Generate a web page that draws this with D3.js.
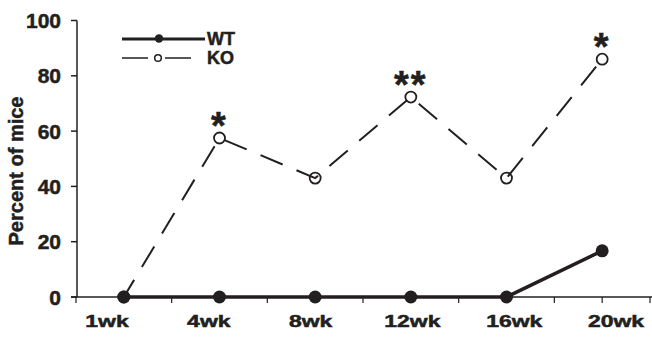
<!DOCTYPE html>
<html>
<head>
<meta charset="utf-8">
<script src="https://cdn.jsdelivr.net/npm/d3@7"></script>
<style>
  body { margin: 0; background: #fff; }
  text { font-family: "Liberation Sans", Arial, sans-serif; font-weight: bold; fill: #231f20; stroke: #231f20; stroke-width: 0.5; }
</style>
</head>
<body>
<svg id="chart" width="652" height="337"></svg>
<script>
'use strict';

var weeks = ['1wk', '4wk', '8wk', '12wk', '16wk', '20wk'];
var wtValues = [0, 0, 0, 0, 0, 16.7];
var koValues = [0, 57.5, 43, 72.3, 43, 86];
var stars = ['', '*', '', '**', '', '*'];
var yTicks = [0, 20, 40, 60, 80, 100];

var ink = '#231f20';
var svg = d3.select('#chart');

var x = d3.scaleBand().domain(weeks).range([76, 650]).padding(0);
var xLabel = d3.scalePoint().domain(weeks).range([107, 616]);
var y = d3.scaleLinear().domain([0, 100]).range([297, 20.5]);

function cx(d, i) { return x(weeks[i]) + x.bandwidth() / 2; }

// axes
var g = svg.append('g');
g.append('line').attr('x1', 71).attr('x2', 652).attr('y1', y(0)).attr('y2', y(0))
  .attr('stroke', ink).attr('stroke-width', 1.5);
g.append('line').attr('x1', 77).attr('x2', 77).attr('y1', y(100)).attr('y2', y(0))
  .attr('stroke', ink).attr('stroke-width', 1.5);

// y ticks
g.selectAll('.ytick').data(yTicks).enter().append('line')
  .attr('x1', 71).attr('x2', 77).attr('y1', function(d) { return y(d); }).attr('y2', function(d) { return y(d); })
  .attr('stroke', ink).attr('stroke-width', 1.5);
g.selectAll('.ylab').data(yTicks).enter().append('text')
  .attr('x', 61).attr('y', function(d) { return y(d) + 7.5; })
  .attr('text-anchor', 'end').attr('font-size', 21)
  .text(function(d) { return d; });

// x ticks: band edges, plus last band center
var xTickPos = weeks.map(function(w) { return x(w); });
xTickPos.push(x(weeks[5]) + x.bandwidth() / 2);
xTickPos.push(x.range()[1]);
g.selectAll('.xtick').data(xTickPos).enter().append('line')
  .attr('x1', function(d) { return d; }).attr('x2', function(d) { return d; })
  .attr('y1', y(0)).attr('y2', y(0) + 6)
  .attr('stroke', ink).attr('stroke-width', 1.2);
g.selectAll('.xlab').data(weeks).enter().append('text')
  .attr('transform', function(d) { return 'translate(' + xLabel(d) + ',327) scale(1.35,1)'; })
  .attr('text-anchor', 'middle').attr('font-size', 17)
  .text(function(d) { return d; });

// y title
svg.append('text')
  .attr('transform', 'translate(23,171) rotate(-90)')
  .attr('text-anchor', 'middle').attr('font-size', 20)
  .text('Percent of mice');

// KO dashed line
var line = d3.line().x(cx).y(function(d) { return y(d); });
svg.append('path').datum(koValues).attr('d', line)
  .attr('fill', 'none').attr('stroke', ink).attr('stroke-width', 2)
  .attr('stroke-dasharray', '24,15').attr('stroke-dashoffset', 4);
svg.selectAll('.ko').data(koValues).enter().append('circle')
  .attr('cx', cx).attr('cy', function(d) { return y(d); }).attr('r', 5.5)
  .attr('fill', 'none').attr('stroke', ink).attr('stroke-width', 1.8);

// WT solid line
svg.append('path').datum(wtValues).attr('d', line)
  .attr('fill', 'none').attr('stroke', ink).attr('stroke-width', 3.5);
svg.selectAll('.wt').data(wtValues).enter().append('circle')
  .attr('cx', cx).attr('cy', function(d) { return y(d); }).attr('r', 6.5)
  .attr('fill', ink);

// significance stars
svg.selectAll('.star').data(stars).enter().append('text')
  .attr('x', function(d, i) { return cx(d, i); })
  .attr('y', function(d, i) { return y(koValues[i]) + 1; })
  .attr('text-anchor', 'middle').attr('font-size', 38)
  .attr('letter-spacing', 2)
  .text(function(d) { return d; });

// legend
var leg = svg.append('g');
leg.append('line').attr('x1', 122).attr('x2', 205).attr('y1', 39).attr('y2', 39)
  .attr('stroke', ink).attr('stroke-width', 3);
leg.append('circle').attr('cx', 159).attr('cy', 38.5).attr('r', 4.2).attr('fill', ink);
leg.append('text').attr('x', 207).attr('y', 45).attr('font-size', 18).text('WT');
leg.append('line').attr('x1', 122).attr('x2', 148).attr('y1', 58).attr('y2', 58)
  .attr('stroke', ink).attr('stroke-width', 1.5);
leg.append('line').attr('x1', 165).attr('x2', 191).attr('y1', 58).attr('y2', 58)
  .attr('stroke', ink).attr('stroke-width', 1.5);
leg.append('circle').attr('cx', 158).attr('cy', 58).attr('r', 3.3)
  .attr('fill', 'none').attr('stroke', ink).attr('stroke-width', 1.5);
leg.append('text').attr('x', 207).attr('y', 64).attr('font-size', 18).text('KO');
</script>
</body>
</html>
